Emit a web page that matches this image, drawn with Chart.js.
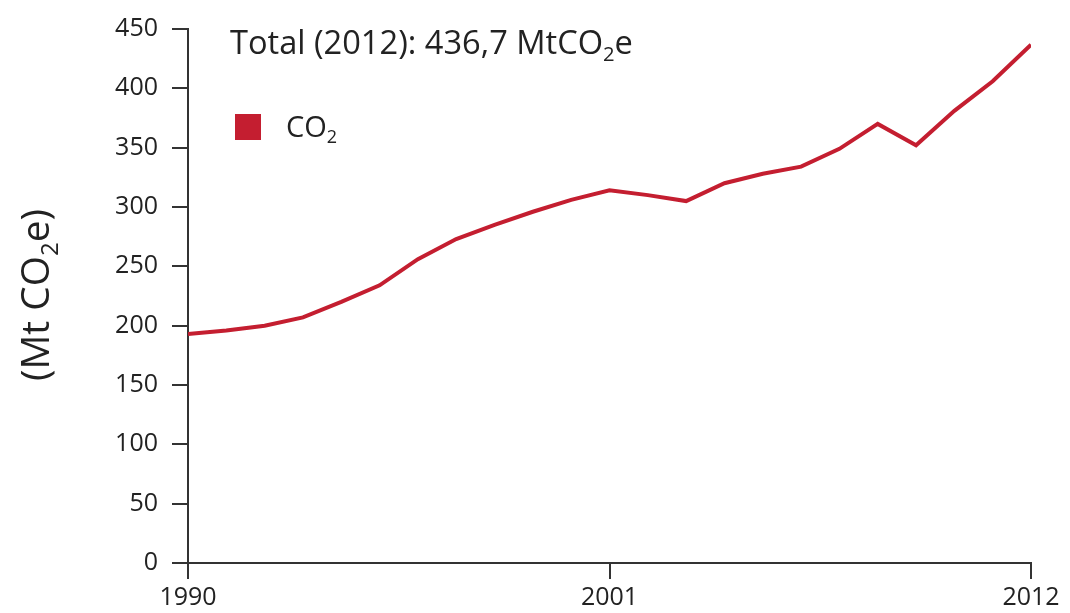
<!DOCTYPE html>
<html>
<head>
<meta charset="utf-8">
<script src="https://cdn.jsdelivr.net/npm/chart.js@4"></script>
<style>
html,body{margin:0;padding:0;background:#fff;}
#wrap{width:1070px;height:613px;position:relative;}
</style>
</head>
<body>
<div id="wrap"><canvas id="c" width="1070" height="613"></canvas></div>
<script>
const years = [1990,1991,1992,1993,1994,1995,1996,1997,1998,1999,2000,2001,2002,2003,2004,2005,2006,2007,2008,2009,2010,2011,2012];
const co2 = [193,196,200,207,220,234,256,273,285,296,306,314,310,305,320,328,334,349,370,352,381,406,436.7];
const xTicks = [1990,2001,2012];
const yTicks = [0,50,100,150,200,250,300,350,400,450];
const seriesName = ['CO','2'];
const totalText = ['Total (2012): 436,7 MtCO','2','e'];
const yTitle = ['(Mt CO','2','e)'];

const FONT = '"Open Sans", "Liberation Sans", sans-serif';
const TXT = '#222';
const AX = '#333';
const RED = '#c41e30';

function drawRich(ctx, parts, x, y, size, targetW) {
  function widths(sz){
    let w = 0;
    parts.forEach((p,i)=>{
      ctx.font = (i%2===1 ? sz*0.62 : sz) + 'px ' + FONT;
      w += ctx.measureText(p).width;
    });
    return w;
  }
  if (targetW) {
    const w0 = widths(size);
    size = size * targetW / w0;
  }
  let cx = x;
  parts.forEach((p,i)=>{
    const sub = i%2===1;
    const sz = sub ? size*0.62 : size;
    ctx.font = sz + 'px ' + FONT;
    ctx.fillText(p, cx, sub ? y + size*0.22 : y);
    cx += ctx.measureText(p).width;
  });
  return cx - x;
}

const overlay = {
  id: 'overlay',
  afterDraw(chart) {
    const ctx = chart.ctx;
    ctx.save();
    ctx.fillStyle = TXT;
    ctx.textBaseline = 'alphabetic';
    ctx.textAlign = 'left';
    drawRich(ctx, totalText, 230, 54, 27, 403);
    ctx.fillStyle = RED;
    ctx.fillRect(235, 114, 26, 26);
    ctx.fillStyle = TXT;
    drawRich(ctx, seriesName, 286, 137, 29);
    ctx.translate(49, 295);
    ctx.rotate(-Math.PI/2);
    drawRich(ctx, yTitle, -86, 0, 36, 172);
    ctx.restore();
  }
};

new Chart(document.getElementById('c'), {
  type: 'line',
  data: {
    datasets: [{
      label: 'CO2',
      data: years.map((y,i)=>({x:y, y:co2[i]})),
      borderColor: RED,
      borderWidth: 4,
      pointRadius: 0,
      tension: 0,
      fill: false
    }]
  },
  options: {
    responsive: false,
    animation: false,
    devicePixelRatio: 1,
    layout: { padding: { left: 0, right: 39, top: 29, bottom: 0 } },
    plugins: { legend: { display: false }, tooltip: { enabled: false } },
    scales: {
      x: {
        type: 'linear',
        min: 1990, max: 2012,
        afterBuildTicks(scale){ scale.ticks = xTicks.map(v=>({value:v})); },
        afterFit(scale){ scale.height = 50; },
        border: { display: true, color: AX, width: 2 },
        grid: { display: true, drawOnChartArea: false, drawTicks: true, tickLength: 16, color: AX, lineWidth: 2 },
        ticks: { color: TXT, font: { family: FONT, size: 25 }, padding: 4, maxRotation: 0, autoSkip: false, callback: v => String(v) }
      },
      y: {
        min: 0, max: 450,
        afterBuildTicks(scale){ scale.ticks = yTicks.map(v=>({value:v})); },
        afterFit(scale){ scale.width = 188; },
        border: { display: true, color: AX, width: 2 },
        grid: { display: true, drawOnChartArea: false, drawTicks: true, tickLength: 16, color: AX, lineWidth: 2 },
        ticks: { color: TXT, font: { family: FONT, size: 25 }, padding: 14, autoSkip: false, callback: v => String(v) }
      }
    }
  },
  plugins: [overlay]
});
</script>
</body>
</html>
